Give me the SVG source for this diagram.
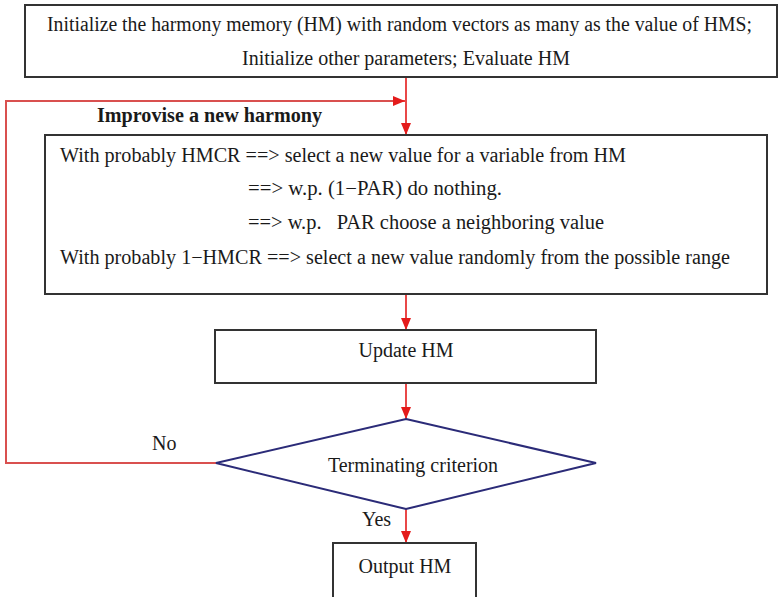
<svg xmlns="http://www.w3.org/2000/svg" width="779" height="597" viewBox="0 0 779 597">
  <defs>
    <marker id="arrow" viewBox="0 0 12 10" refX="12" refY="5" markerWidth="12" markerHeight="10" markerUnits="userSpaceOnUse" orient="auto">
      <path d="M0,0 L12,5 L0,10 Z" fill="#e41b1b"/>
    </marker>
  </defs>
  <style>
    .box { fill: #ffffff; stroke: #333333; stroke-width: 2; }
    .decision { fill: #ffffff; stroke: #2b2b78; stroke-width: 2; }
    .flow { fill: none; stroke: #e41b1b; stroke-width: 1.6; }
    .loop { fill: none; stroke: #d9504f; stroke-width: 2; }
    text { font-family: "Liberation Serif", "Times New Roman", serif; font-size: 20px; fill: #1a1a1a; }
    .mid { text-anchor: middle; }
    .bold { font-weight: bold; }
  </style>
  <rect width="779" height="597" fill="#ffffff"/>

  <!-- connectors -->
  <g id="connectors">
    <line class="flow" x1="406" y1="77" x2="406" y2="135" marker-end="url(#arrow)"/>
    <polyline class="loop" points="216,463 6,463 6,101 394,101"/>
    <line class="flow" x1="394" y1="101" x2="405" y2="101" marker-end="url(#arrow)"/>
    <line class="flow" x1="406" y1="295" x2="406" y2="330" marker-end="url(#arrow)"/>
    <line class="flow" x1="406" y1="383" x2="406" y2="419" marker-end="url(#arrow)"/>
    <line class="flow" x1="406" y1="509" x2="406" y2="543" marker-end="url(#arrow)"/>
    <text x="152" y="450">No</text>
    <text x="362" y="526">Yes</text>
  </g>

  <!-- initialisation -->
  <g id="init">
    <rect class="box" x="25" y="5" width="752" height="72"/>
    <text x="47" y="31" textLength="705" lengthAdjust="spacingAndGlyphs">Initialize the harmony memory (HM) with random vectors as many as the value of HMS;</text>
    <text x="242" y="65" textLength="328" lengthAdjust="spacingAndGlyphs">Initialize other parameters; Evaluate HM</text>
  </g>

  <!-- improvisation step -->
  <g id="improvise">
    <text class="bold" x="97" y="122" textLength="225" lengthAdjust="spacingAndGlyphs">Improvise a new harmony</text>
    <rect class="box" x="45" y="135" width="722" height="159"/>
    <text x="60" y="162" textLength="566" lengthAdjust="spacingAndGlyphs">With probably HMCR ==&gt; select a new value for a variable from HM</text>
    <text x="248" y="195" textLength="254" lengthAdjust="spacingAndGlyphs">==&gt; w.p. (1−PAR) do nothing.</text>
    <text x="248" y="229" textLength="356" lengthAdjust="spacingAndGlyphs" xml:space="preserve">==&gt; w.p.   PAR choose a neighboring value</text>
    <text x="60" y="264" textLength="670" lengthAdjust="spacingAndGlyphs">With probably 1−HMCR ==&gt; select a new value randomly from the possible range</text>
  </g>

  <!-- memory update -->
  <g id="update">
    <rect class="box" x="215" y="330" width="381" height="53"/>
    <text class="mid" x="406" y="357">Update HM</text>
  </g>

  <!-- stopping test -->
  <g id="criterion">
    <polygon class="decision" points="406,419 596,463 406,509 216,463"/>
    <text class="mid" x="413" y="472">Terminating criterion</text>
  </g>

  <!-- result -->
  <g id="output">
    <rect class="box" x="333" y="543" width="143" height="70"/>
    <text class="mid" x="405" y="573">Output HM</text>
  </g>
</svg>
